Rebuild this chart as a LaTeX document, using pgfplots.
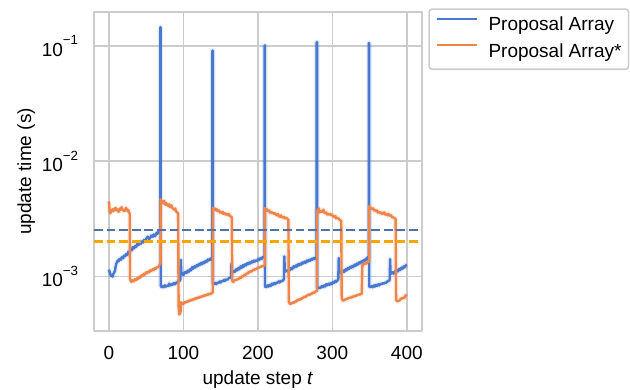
\documentclass[border=0pt]{standalone}
\usepackage{pgfplots}
\pgfplotsset{compat=1.18}
\usepackage{pgfplotstable}
\usepackage{fontspec}
\setmainfont{Liberation Sans}
\definecolor{sbblue}{HTML}{4878D0}
\definecolor{sborange}{HTML}{EE854A}
\definecolor{dblue}{HTML}{4C72B0}
\definecolor{dorange}{HTML}{FFA500}
\definecolor{gridgray}{HTML}{CCCCCC}
\newcommand{\sups}[1]{\raisebox{11.5bp}{\fontsize{13.3bp}{14bp}\selectfont #1}}

\pgfplotstableread{
t v
0 1.15e-3
1 1.10e-3
2 1.05e-3
3 1.01e-3
4 1.03e-3
5 1.00e-3
6 1.06e-3
7 1.08e-3
8 1.12e-3
9 1.22e-3
10 1.30e-3
11 1.34e-3
12 1.38e-3
13 1.36e-3
14 1.42e-3
16 1.40e-3
17 1.47e-3
19 1.44e-3
20 1.52e-3
22 1.50e-3
23 1.57e-3
25 1.55e-3
26 1.64e-3
28 1.62e-3
29 1.72e-3
31 1.70e-3
32 1.80e-3
34 1.76e-3
35 1.84e-3
37 1.82e-3
38 1.92e-3
40 1.88e-3
41 1.97e-3
43 1.93e-3
44 2.02e-3
46 1.98e-3
47 2.08e-3
49 2.04e-3
50 2.12e-3
52 2.22e-3
54 2.12e-3
56 2.20e-3
57 2.27e-3
59 2.22e-3
60 2.32e-3
62 2.24e-3
64 2.40e-3
65 2.34e-3
66 2.44e-3
67 2.40e-3
68 2.50e-3
69 2.50e-3
69 0.145
69.6 0.145
69.6 8.3e-4
71 8.1e-4
72 8.3e-4
74 8.1e-4
75 8.4e-4
77 8.2e-4
78 8.4e-4
80 8.3e-4
81 8.7e-4
83 8.4e-4
84 8.6e-4
86 8.5e-4
87 8.8e-4
89 8.6e-4
90 8.9e-4
92 8.8e-4
93 9.1e-4
95 9.2e-4
96 9.5e-4
96.6 1.40e-3
97.2 1.05e-3
98 1.08e-3
100 1.03e-3
101 1.08e-3
103 1.10e-3
104 1.07e-3
106 1.13e-3
107 1.10e-3
109 1.16e-3
110 1.13e-3
112 1.21e-3
113 1.17e-3
115 1.23e-3
116 1.20e-3
118 1.26e-3
119 1.23e-3
121 1.29e-3
122 1.26e-3
124 1.32e-3
125 1.28e-3
127 1.34e-3
128 1.31e-3
130 1.37e-3
131 1.34e-3
133 1.41e-3
134 1.38e-3
136 1.43e-3
137 1.40e-3
138 1.46e-3
139 1.46e-3
139 0.091
139.6 0.091
139.6 8.8e-4
141 8.6e-4
143 8.8e-4
144 8.6e-4
146 8.9e-4
147 8.8e-4
149 9.1e-4
150 8.9e-4
152 9.2e-4
153 9.1e-4
155 9.4e-4
156 9.2e-4
158 9.5e-4
159 9.4e-4
161 9.7e-4
163 9.8e-4
164 1.0e-3
164.6 1.30e-3
165.2 1.05e-3
166 1.09e-3
168 1.12e-3
169 1.10e-3
171 1.16e-3
172 1.13e-3
174 1.19e-3
175 1.16e-3
177 1.23e-3
178 1.19e-3
180 1.26e-3
181 1.22e-3
183 1.28e-3
184 1.25e-3
186 1.31e-3
187 1.28e-3
189 1.33e-3
190 1.30e-3
192 1.36e-3
193 1.33e-3
195 1.38e-3
196 1.35e-3
198 1.39e-3
199 1.37e-3
201 1.43e-3
202 1.40e-3
204 1.45e-3
205 1.42e-3
206 1.47e-3
208 1.48e-3
209 1.48e-3
209 0.101
209.6 0.101
209.6 8.2e-4
211 8.1e-4
213 8.4e-4
214 8.2e-4
216 8.5e-4
217 8.3e-4
219 8.7e-4
220 8.5e-4
222 8.8e-4
223 8.6e-4
225 8.9e-4
226 8.8e-4
228 9.1e-4
229 8.9e-4
231 9.2e-4
232 9.1e-4
234 9.3e-4
235 9.5e-4
235.6 1.50e-3
236.2 1.10e-3
237 1.12e-3
239 1.13e-3
240 1.11e-3
242 1.16e-3
243 1.14e-3
245 1.19e-3
246 1.16e-3
248 1.23e-3
249 1.20e-3
251 1.25e-3
252 1.22e-3
254 1.28e-3
255 1.25e-3
257 1.30e-3
258 1.27e-3
260 1.33e-3
261 1.30e-3
263 1.35e-3
264 1.32e-3
266 1.38e-3
267 1.35e-3
269 1.40e-3
270 1.37e-3
272 1.43e-3
273 1.40e-3
275 1.45e-3
276 1.42e-3
278 1.47e-3
279 1.47e-3
279 0.108
279.6 0.108
279.6 8.0e-4
281 7.9e-4
283 8.1e-4
284 8.0e-4
286 8.3e-4
287 8.1e-4
289 8.4e-4
290 8.2e-4
292 8.6e-4
293 8.4e-4
295 8.7e-4
296 8.5e-4
298 8.8e-4
299 8.6e-4
301 9.0e-4
302 8.8e-4
304 9.2e-4
305 9.0e-4
307 9.3e-4
308 9.5e-4
308.6 1.45e-3
309.2 1.08e-3
310 1.10e-3
312 1.07e-3
313 1.10e-3
315 1.13e-3
316 1.10e-3
318 1.16e-3
319 1.13e-3
321 1.19e-3
322 1.16e-3
324 1.22e-3
325 1.19e-3
327 1.24e-3
328 1.21e-3
330 1.27e-3
331 1.24e-3
333 1.30e-3
334 1.27e-3
336 1.33e-3
337 1.30e-3
339 1.36e-3
340 1.33e-3
342 1.39e-3
343 1.36e-3
345 1.43e-3
346 1.40e-3
347 1.46e-3
348 1.48e-3
349 1.48e-3
349 0.106
349.6 0.106
349.6 8.2e-4
351 8.1e-4
353 8.3e-4
354 8.1e-4
356 8.4e-4
357 8.2e-4
359 8.5e-4
360 8.3e-4
362 8.6e-4
363 8.4e-4
365 8.7e-4
366 8.6e-4
368 8.8e-4
369 8.7e-4
371 8.9e-4
372 8.8e-4
374 9.1e-4
376 9.2e-4
377 9.4e-4
377.6 1.42e-3
378.2 1.05e-3
379 1.07e-3
381 1.09e-3
382 1.06e-3
384 1.11e-3
385 1.09e-3
387 1.14e-3
388 1.11e-3
390 1.17e-3
391 1.14e-3
393 1.20e-3
394 1.17e-3
396 1.23e-3
397 1.20e-3
399 1.26e-3
400 1.27e-3
}\blue

\pgfplotstableread{
t v
0 4.5e-3
1 3.7e-3
2 3.55e-3
3 3.65e-3
5 3.85e-3
6 3.7e-3
7 3.8e-3
9 3.95e-3
10 3.75e-3
11 3.85e-3
13 3.65e-3
15 3.9e-3
16 3.8e-3
17 4.0e-3
19 3.75e-3
21 3.7e-3
22 3.85e-3
23 3.95e-3
25 3.7e-3
26 3.8e-3
27 3.6e-3
28 3.5e-3
28.4 9.5e-4
30 9.0e-4
31 9.3e-4
33 9.1e-4
35 9.5e-4
36 9.3e-4
38 9.7e-4
39 9.5e-4
41 1.0e-3
42 9.8e-4
44 1.03e-3
45 1.01e-3
47 1.06e-3
48 1.04e-3
50 1.09e-3
51 1.07e-3
53 1.11e-3
54 1.09e-3
56 1.14e-3
57 1.12e-3
59 1.16e-3
60 1.14e-3
62 1.19e-3
63 1.17e-3
65 1.21e-3
66 1.2e-3
68 1.26e-3
69.4 1.3e-3
69.4 4.7e-3
71 4.4e-3
72 4.5e-3
73 4.3e-3
74 4.55e-3
76 4.2e-3
77 4.35e-3
78 4.2e-3
80 4.1e-3
81 4.25e-3
82 4.0e-3
84 4.15e-3
85 3.95e-3
86 3.9e-3
88 3.8e-3
89 3.9e-3
90 3.7e-3
92 3.6e-3
93 3.5e-3
93.6 5.5e-4
94.5 4.7e-4
95.5 4.8e-4
96.3 5.0e-4
96.8 6.0e-4
98 5.9e-4
100 5.8e-4
101 6.0e-4
103 5.95e-4
104 6.1e-4
106 6.05e-4
107 6.2e-4
109 6.15e-4
110 6.3e-4
112 6.25e-4
113 6.4e-4
115 6.35e-4
116 6.5e-4
118 6.45e-4
119 6.6e-4
121 6.55e-4
122 6.7e-4
124 6.65e-4
125 6.8e-4
127 6.75e-4
128 6.9e-4
130 6.85e-4
131 7.0e-4
133 6.95e-4
134 7.1e-4
136 7.05e-4
138 7.2e-4
139.4 7.3e-4
139.4 3.95e-3
141 3.8e-3
142 3.9e-3
144 3.75e-3
145 3.85e-3
146 3.7e-3
148 3.75e-3
149 3.6e-3
150 3.65e-3
152 3.55e-3
153 3.65e-3
154 3.5e-3
156 3.55e-3
157 3.45e-3
158 3.5e-3
160 3.4e-3
161 3.5e-3
162 3.4e-3
164 3.3e-3
165 3.3e-3
165.6 9.2e-4
167 9.0e-4
168 9.2e-4
170 9.4e-4
171 9.3e-4
173 9.6e-4
174 9.5e-4
176 9.8e-4
177 9.7e-4
179 1.01e-3
180 1.0e-3
182 1.04e-3
183 1.03e-3
185 1.07e-3
186 1.06e-3
188 1.1e-3
189 1.09e-3
191 1.12e-3
192 1.11e-3
194 1.15e-3
195 1.14e-3
197 1.17e-3
198 1.16e-3
200 1.2e-3
201 1.19e-3
203 1.22e-3
204 1.21e-3
206 1.24e-3
207 1.23e-3
209.4 1.26e-3
209.4 3.95e-3
211 3.8e-3
212 3.85e-3
213 3.7e-3
215 3.75e-3
216 3.6e-3
218 3.65e-3
219 3.55e-3
220 3.6e-3
222 3.5e-3
223 3.55e-3
224 3.45e-3
226 3.4e-3
227 3.5e-3
228 3.35e-3
230 3.3e-3
231 3.4e-3
232 3.3e-3
234 3.25e-3
235 3.3e-3
236 3.2e-3
238 3.25e-3
240 3.15e-3
241 3.1e-3
241.6 6.0e-4
243 5.8e-4
244 5.9e-4
246 5.85e-4
247 6.0e-4
249 5.95e-4
250 6.1e-4
252 6.1e-4
253 6.3e-4
255 6.25e-4
256 6.4e-4
258 6.35e-4
259 6.5e-4
261 6.55e-4
262 6.7e-4
264 6.65e-4
265 6.8e-4
267 6.9e-4
268 7.0e-4
270 6.95e-4
271 7.1e-4
273 7.15e-4
274 7.3e-4
276 7.25e-4
277 7.4e-4
279.4 7.5e-4
279.4 3.7e-3
281 3.8e-3
282 3.9e-3
283 3.6e-3
285 3.7e-3
286 3.65e-3
288 3.8e-3
289 3.6e-3
290 3.55e-3
292 3.6e-3
293 3.45e-3
294 3.5e-3
296 3.45e-3
297 3.5e-3
298 3.4e-3
300 3.45e-3
301 3.35e-3
302 3.3e-3
304 3.35e-3
305 3.2e-3
306 3.25e-3
308 3.2e-3
310 3.1e-3
312 3.05e-3
312.6 6.5e-4
314 6.2e-4
315 6.3e-4
317 6.25e-4
318 6.4e-4
320 6.4e-4
321 6.5e-4
323 6.55e-4
324 6.6e-4
326 6.6e-4
327 6.7e-4
329 6.75e-4
330 6.8e-4
332 6.85e-4
333 6.9e-4
335 6.95e-4
336 7.0e-4
338 7.05e-4
339.5 7.1e-4
340.3 1.25e-3
342 1.3e-3
343 1.28e-3
345 1.32e-3
346 1.3e-3
347 1.33e-3
349.4 1.35e-3
349.4 4.1e-3
351 3.9e-3
352 3.95e-3
353 3.85e-3
355 3.9e-3
356 3.75e-3
357 3.8e-3
359 3.7e-3
360 3.75e-3
361 3.6e-3
363 3.65e-3
364 3.55e-3
366 3.6e-3
367 3.5e-3
368 3.55e-3
370 3.6e-3
371 3.45e-3
372 3.5e-3
374 3.4e-3
375 3.5e-3
376 3.45e-3
378 3.35e-3
379 3.4e-3
380 3.3e-3
382 3.25e-3
384 3.2e-3
385 3.15e-3
385.6 6.3e-4
387 6.1e-4
388 6.15e-4
390 6.2e-4
391 6.3e-4
393 6.5e-4
394 6.45e-4
396 6.6e-4
397 6.55e-4
398 6.8e-4
400 7.0e-4
}\orange

\begin{document}
\begin{tikzpicture}[font=\fontsize{19bp}{22.8bp}\selectfont]
\useasboundingbox (0,0) rectangle (630bp,390bp);
\begin{axis}[
  at={(94bp,59bp)}, anchor=south west,
  width=327.7bp, height=319.3bp, scale only axis,
  ymode=log,
  xmin=-20, xmax=420, ymin=3.38e-4, ymax=0.198,
  xtick={0,100,200,300,400},
  xticklabels={0,100,200,300,400},
  ytick={1e-3,1e-2,1e-1},
  yticklabels={10\sups{−3},10\sups{−2},10\sups{−1}},
  yminorticks=false, xminorticks=false,
  grid=major,
  major grid style={draw=gridgray, line width=1.6bp},
  axis line style={draw=gridgray, line width=2bp},
  tick style={draw=none},
  xticklabel style={inner sep=0pt, anchor=north, yshift=-14.7bp},
  yticklabel style={inner sep=0pt, anchor=east, xshift=-15.7bp},
  xlabel={update step \textit{t}},
  ylabel={update time (s)},
  xlabel style={at={(axis description cs:0.5,-0.1661)}, anchor=base, inner sep=0pt},
  ylabel style={at={(axis description cs:-0.179,0.5)}, anchor=south, inner sep=0pt},
  legend style={at={(1,1)}, anchor=north west, xshift=6.6bp, yshift=3.4bp,
    draw=gridgray, line width=1.6bp, rounded corners=3bp, fill=white,
    inner xsep=7bp, inner ysep=8bp, row sep=8.9bp,
    nodes={inner sep=0pt, text height=13.6bp, text depth=4bp},
    /tikz/every odd column/.append style={column sep=10bp}},
  legend cell align=left,
  legend image code/.code={\draw[#1, line width=2.4bp] (0bp,7.2bp) -- (40bp,7.2bp);},
  line join=round,
]
\addplot[sbblue, line width=5bp, opacity=0.15, forget plot] table[x=t,y=v] {\blue};
\addplot[sborange, line width=5bp, opacity=0.15, forget plot] table[x=t,y=v] {\orange};
\addplot[sbblue, line width=2.4bp] table[x=t,y=v] {\blue};
\addlegendentry{Proposal Array}
\addplot[sborange, line width=2.4bp] table[x=t,y=v] {\orange};
\addlegendentry{Proposal Array*}
\addplot[dblue, line width=2.4bp, dash pattern=on 8.8bp off 3.8bp, forget plot] coordinates {(-20,2.55e-3) (420,2.55e-3)};
\addplot[dorange, line width=2.4bp, dash pattern=on 8.8bp off 3.8bp, forget plot] coordinates {(-20,2.02e-3) (420,2.02e-3)};
\end{axis}
\end{tikzpicture}
\end{document}
